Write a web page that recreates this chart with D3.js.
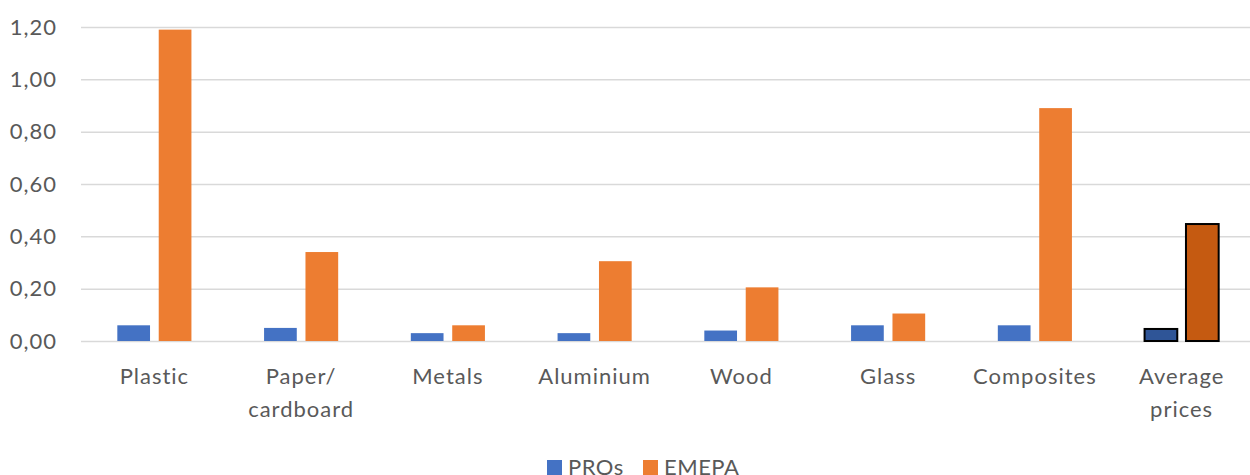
<!DOCTYPE html>
<html>
<head>
<meta charset="utf-8">
<script src="https://cdn.jsdelivr.net/npm/d3@7"></script>
<style>
  body { margin: 0; background: #fff; }
  svg { display: block; font-family: Lato, "Open Sans", sans-serif; }
</style>
</head>
<body>
<svg id="chart"></svg>
<script>
// ── Data ──────────────────────────────────────────────────────────────────
const categories = ["Plastic", "Paper/\ncardboard", "Metals", "Aluminium", "Wood", "Glass", "Composites", "Average\nprices"];
const series     = ["PROs", "EMEPA"];
const pros       = [0.06, 0.05, 0.03, 0.03, 0.04, 0.06, 0.06, 0.046];
const emepa      = [1.19, 0.34, 0.06, 0.305, 0.205, 0.105, 0.89, 0.447];
const yTicks     = [0, 0.2, 0.4, 0.6, 0.8, 1.0, 1.2];

const width = 1250, height = 475;
const plot = { left: 81, right: 1255, top: 27, bottom: 341 };

const colors     = { PROs: "#4472C4", EMEPA: "#ED7D31" };
const darkColors = { PROs: "#2F5597", EMEPA: "#C55A11" };

const svg = d3.select("#chart")
    .attr("width", width)
    .attr("height", height);

// ── Scales ────────────────────────────────────────────────────────────────
const x0 = d3.scaleBand()
    .domain(categories)
    .range([plot.left, plot.right])
    .paddingInner(0.495)
    .paddingOuter(0.2475);

const x1 = d3.scaleBand()
    .domain(series)
    .range([0, x0.bandwidth()])
    .paddingInner(0.21);

const y = d3.scaleLinear()
    .domain([0, 1.2])
    .range([plot.bottom, plot.top]);

const fmt = v => d3.format(".2f")(v).replace(".", ",");

// ── Gridlines ─────────────────────────────────────────────────────────────
svg.append("g")
    .attr("transform", `translate(${plot.left},0)`)
    .call(d3.axisLeft(y).tickValues(yTicks).tickSize(-(plot.right - plot.left)).tickFormat(""))
    .call(g => g.select(".domain").remove())
    .call(g => g.selectAll("line")
        .attr("stroke", "#d9d9d9")
        .attr("stroke-width", 1.5));

// ── Y labels ──────────────────────────────────────────────────────────────
svg.append("g")
    .selectAll("text")
    .data(yTicks)
    .join("text")
    .attr("x", 57)
    .attr("y", d => y(d))
    .attr("dy", "0.35em")
    .attr("text-anchor", "end")
    .attr("font-size", 22)
    .attr("letter-spacing", 1)
    .attr("fill", "#595959")
    .text(fmt);

// ── Bars ──────────────────────────────────────────────────────────────────
const rows = categories.map((c, i) => ({ cat: c, i, vals: { PROs: pros[i], EMEPA: emepa[i] } }));
const last = categories.length - 1;

svg.append("g")
    .selectAll("g")
    .data(rows)
    .join("g")
    .attr("transform", d => `translate(${x0(d.cat)},0)`)
    .selectAll("rect")
    .data(d => series.map(s => ({ s, v: d.vals[s], avg: d.i === last })))
    .join("rect")
    .attr("x", d => x1(d.s))
    .attr("y", d => y(d.v))
    .attr("width", x1.bandwidth())
    .attr("height", d => y(0) - y(d.v))
    .attr("fill", d => d.avg ? darkColors[d.s] : colors[d.s])
    .attr("stroke", d => d.avg ? "#000" : "none")
    .attr("stroke-width", 2);

// ── X labels ──────────────────────────────────────────────────────────────
svg.append("g")
    .selectAll("text")
    .data(categories)
    .join("text")
    .attr("x", d => x0(d) + x0.bandwidth() / 2)
    .attr("y", 384)
    .attr("text-anchor", "middle")
    .attr("font-size", 22)
    .attr("letter-spacing", 1)
    .attr("fill", "#595959")
    .each(function(d) {
        d.split("\n").forEach((line, k) => {
            d3.select(this).append("tspan")
                .attr("x", x0(d) + x0.bandwidth() / 2)
                .attr("dy", k === 0 ? 0 : 33)
                .text(line);
        });
    });

// ── Legend ────────────────────────────────────────────────────────────────
const legendX = { PROs: 547, EMEPA: 643 };
const legend = svg.append("g")
    .selectAll("g")
    .data(series)
    .join("g")
    .attr("transform", d => `translate(${legendX[d]},460)`);

legend.append("rect")
    .attr("width", 15).attr("height", 15)
    .attr("fill", d => colors[d]);

legend.append("text")
    .attr("x", 21).attr("y", 15)
    .attr("font-size", 22)
    .attr("letter-spacing", 0.5)
    .attr("fill", "#595959")
    .text(d => d);
</script>
</body>
</html>
